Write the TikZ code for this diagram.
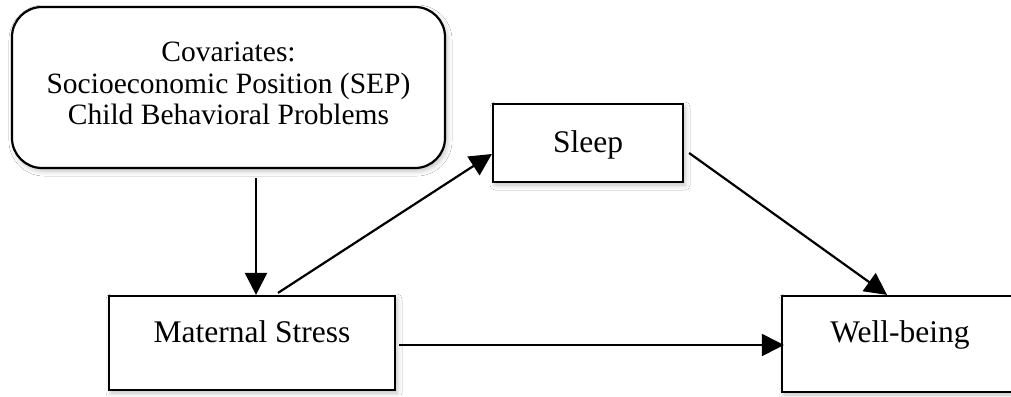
\documentclass[tikz,border=0pt]{standalone}
\usepackage{fontspec}
\setmainfont{Liberation Serif}
\usetikzlibrary{arrows.meta,shadows.blur}
\begin{document}
\begin{tikzpicture}[x=1pt,y=-1pt,
  arr/.style={line width=2.2pt,-{Triangle[length=22pt,width=22pt]}},
  boxshadow/.style={blur shadow={shadow xshift=2pt,shadow yshift=-3pt,shadow blur radius=5pt,shadow opacity=25}},
  plainbox/.style={draw,line width=2.2pt,fill=white,boxshadow,inner sep=0pt,
    font=\fontsize{31.5}{34}\selectfont}]
\useasboundingbox (0,0) rectangle (1011,396);
\fill[white] (0,0) rectangle (1011,396);
\node[draw,line width=2.2pt,fill=white,boxshadow,rounded corners=30pt,
  minimum width=433pt,minimum height=161pt,align=center,
  font=\fontsize{29.5}{31.5}\selectfont] (cov) at (228.5,87.5)
  {Covariates:\\Socioeconomic Position (SEP)\\Child Behavioral Problems\rule[-8pt]{0pt}{8pt}};
\node[plainbox,minimum width=190pt,text height=48pt,text depth=30pt] (sleep) at (588,143) {Sleep};
\node[plainbox,minimum width=286pt,text height=46pt,text depth=48pt] (ms) at (252,343) {Maternal Stress};
\node[plainbox,minimum width=236pt,text height=46pt,text depth=50pt] (wb) at (900,344) {Well-being};
\draw[arr,shorten <=9pt] ([xshift=4pt]ms.north |- cov.south) -- ([xshift=4pt]ms.north);
\draw[arr] ([xshift=26pt,yshift=2pt]ms.north) -- ([yshift=-11pt]sleep.west);
\draw[arr] ([xshift=5pt,yshift=-10pt]sleep.east) -- ([xshift=-13pt]wb.north);
\draw[arr] ([xshift=3pt,yshift=-2pt]ms.east) -- ([xshift=3pt,yshift=-2pt]ms.east -| wb.west);
\end{tikzpicture}
\end{document}
